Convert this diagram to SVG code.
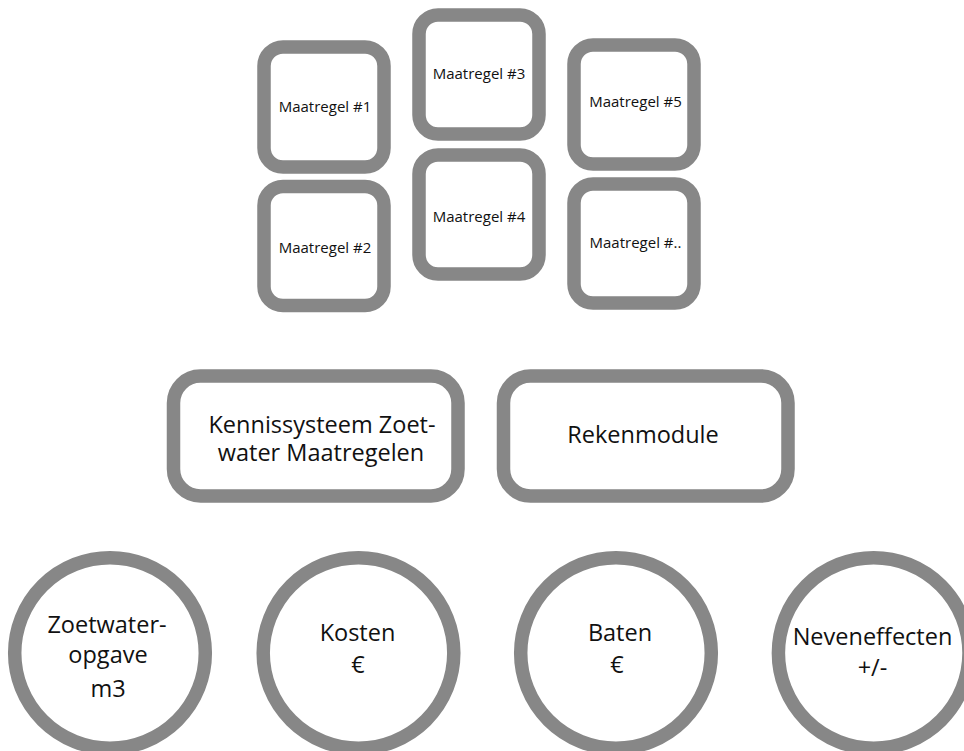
<svg xmlns="http://www.w3.org/2000/svg" width="964" height="751" viewBox="0 0 964 751">
<style>
.box{fill:#ffffff;stroke:#878787;stroke-width:13.5}
.t{font-family:"Open Sans","Liberation Sans",sans-serif;fill:#111111;text-anchor:middle}
.s{font-size:15px}
.l{font-size:23.5px}
</style>
<rect width="964" height="751" fill="#ffffff"/>
<g id="connectors"></g>
<g id="maatregel1"><rect class="box" x="264" y="47" width="120" height="120" rx="19"/><text class="t s" x="325" y="112">Maatregel #1</text></g>
<g id="maatregel2"><rect class="box" x="264" y="186.5" width="120" height="119" rx="19"/><text class="t s" x="325" y="253">Maatregel #2</text></g>
<g id="maatregel3"><rect class="box" x="419" y="15" width="120" height="119" rx="19"/><text class="t s" x="479" y="79">Maatregel #3</text></g>
<g id="maatregel4"><rect class="box" x="419" y="155" width="120" height="119" rx="19"/><text class="t s" x="479" y="222">Maatregel #4</text></g>
<g id="maatregel5"><rect class="box" x="574" y="45" width="120" height="119" rx="19"/><text class="t s" x="635.5" y="107">Maatregel #5</text></g>
<g id="maatregel6"><rect class="box" x="574" y="184" width="120" height="119" rx="19"/><text class="t s" x="635.5" y="248">Maatregel #..</text></g>
<g id="kennissysteem"><rect class="box" x="173.5" y="376" width="284.5" height="120" rx="27"/><text class="t l" x="322" y="433">Kennissysteem Zoet-</text><text class="t l" x="321" y="461">water Maatregelen</text></g>
<g id="rekenmodule"><rect class="box" x="503.5" y="376" width="284.5" height="120" rx="27"/><text class="t l" x="643" y="443">Rekenmodule</text></g>
<g id="zoetwateropgave"><circle class="box" cx="110" cy="653" r="95.3"/><text class="t l" x="107" y="633">Zoetwater-</text><text class="t l" x="108" y="663">opgave</text><text class="t l" x="108" y="697">m3</text></g>
<g id="kosten"><circle class="box" cx="358.5" cy="653" r="95.3"/><text class="t l" x="357.5" y="641">Kosten</text><text class="t l" x="358" y="673">€</text></g>
<g id="baten"><circle class="box" cx="616" cy="653" r="95.3"/><text class="t l" x="620" y="641">Baten</text><text class="t l" x="617" y="673">€</text></g>
<g id="neveneffecten"><circle class="box" cx="873.7" cy="653" r="95.3"/><text class="t l" x="872.5" y="645">Neveneffecten</text><text class="t l" x="872.5" y="676">+/-</text></g>
</svg>
